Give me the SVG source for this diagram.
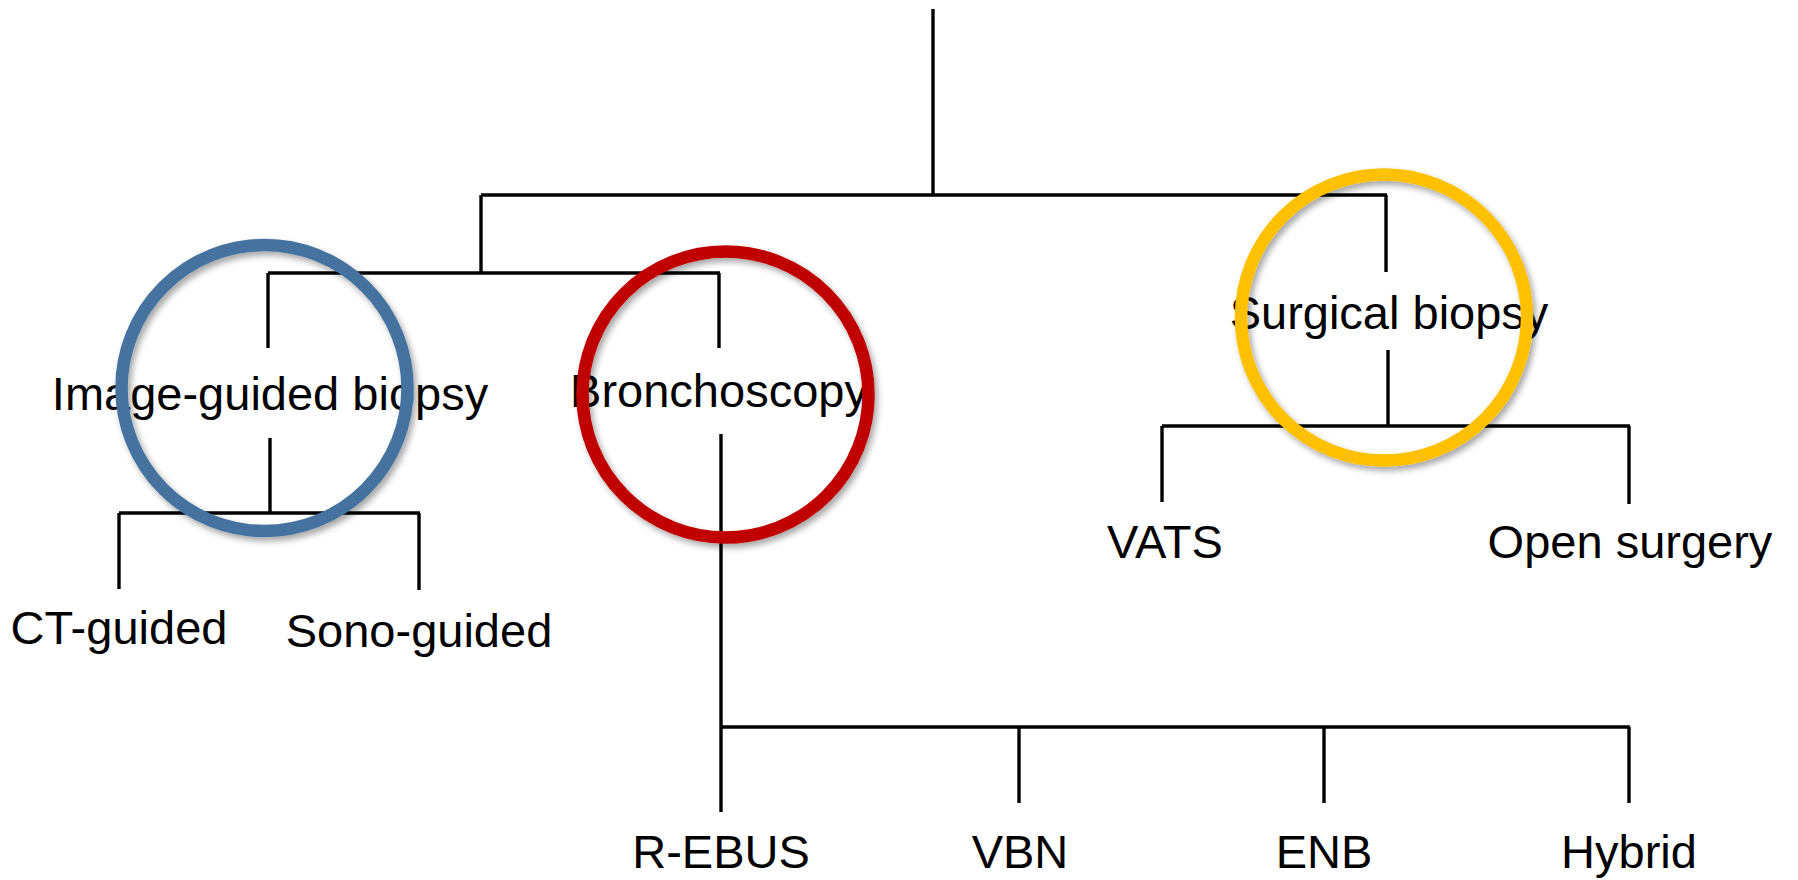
<svg xmlns="http://www.w3.org/2000/svg" width="1798" height="880" viewBox="0 0 1798 880">
<style>
.ln{stroke:#000;stroke-width:3.4;fill:none;stroke-linecap:butt}
.t{font-family:"Liberation Sans",Arial,sans-serif;font-size:47px;fill:#000;text-anchor:middle}
.ring{fill:none;stroke-width:12.5;filter:url(#sh)}
</style>
<defs>
<filter id="sh" x="-20%" y="-20%" width="140%" height="140%">
<feDropShadow dx="3" dy="4" stdDeviation="3" flood-color="#000" flood-opacity="0.35"/>
</filter>
</defs>
<rect width="1798" height="880" fill="#fff"/>
<g id="connectors">
<path class="ln" d="M933,9 V195"/>
<path class="ln" d="M481,195 H1387"/>
<path class="ln" d="M481,195 V273"/>
<path class="ln" d="M1386,195 V272"/>
<path class="ln" d="M268,273 H720"/>
<path class="ln" d="M268,273 V348"/>
<path class="ln" d="M719,273 V348"/>
<path class="ln" d="M270,438 V513"/>
<path class="ln" d="M119,513 H420"/>
<path class="ln" d="M119,513 V589"/>
<path class="ln" d="M419,513 V590"/>
<path class="ln" d="M721,434 V812"/>
<path class="ln" d="M721,727 H1630"/>
<path class="ln" d="M1019,727 V803"/>
<path class="ln" d="M1324,727 V803"/>
<path class="ln" d="M1629,727 V803"/>
<path class="ln" d="M1388,350 V426"/>
<path class="ln" d="M1162,426 H1630"/>
<path class="ln" d="M1162,426 V502"/>
<path class="ln" d="M1629,426 V504"/>
</g>
<g id="image-guided"><text class="t" x="270" y="410">Image-guided biopsy</text></g>
<g id="bronchoscopy"><text class="t" x="719" y="407">Bronchoscopy</text></g>
<g id="surgical"><text class="t" x="1389" y="329">Surgical biopsy</text></g>
<g id="ct"><text class="t" x="119" y="644">CT-guided</text></g>
<g id="sono"><text class="t" x="419" y="647">Sono-guided</text></g>
<g id="vats"><text class="t" x="1165" y="558">VATS</text></g>
<g id="open"><text class="t" x="1630" y="558">Open surgery</text></g>
<g id="rebus"><text class="t" x="721" y="868">R-EBUS</text></g>
<g id="vbn"><text class="t" x="1020" y="868">VBN</text></g>
<g id="enb"><text class="t" x="1324" y="868">ENB</text></g>
<g id="hybrid"><text class="t" x="1629" y="868">Hybrid</text></g>
<g id="circles">
<circle class="ring" cx="264.5" cy="388" r="143" stroke="#44729E"/>
<circle class="ring" cx="725.5" cy="394.5" r="143" stroke="#C00000"/>
<circle class="ring" cx="1384" cy="317.5" r="143" stroke="#FFC000"/>
</g>
</svg>
